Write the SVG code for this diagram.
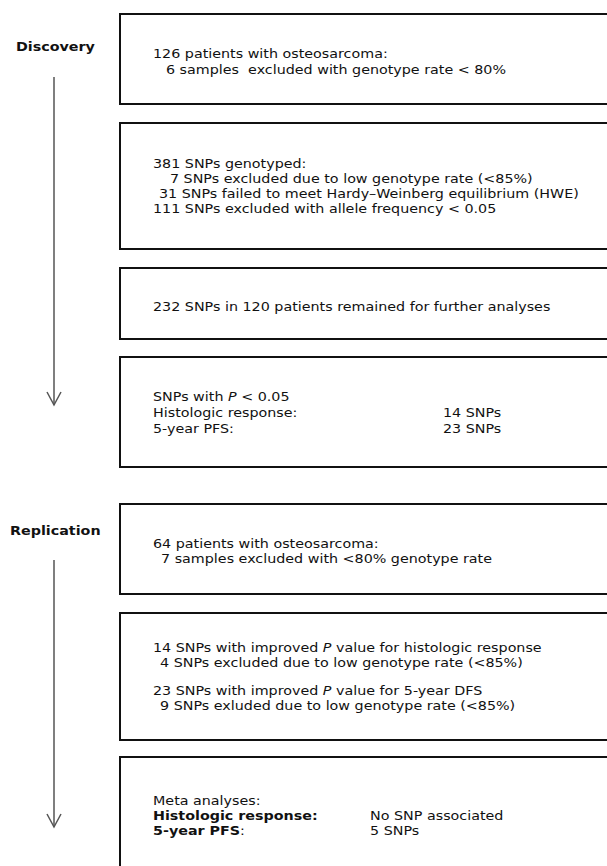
<svg xmlns="http://www.w3.org/2000/svg" width="607" height="866" viewBox="0 0 607 866">
<style>
.box{fill:#fff;stroke:#111;stroke-width:2}
text{font-family:"DejaVu Sans","Verdana",sans-serif;font-size:13px;fill:#111;white-space:pre}
.b{font-weight:bold}
.conn{stroke:#555;stroke-width:1.5;fill:none}
</style>
<rect width="607" height="866" fill="#fff"/>
<g id="connectors">
<line class="conn" x1="54" y1="77" x2="54" y2="405"/>
<polyline class="conn" points="47,392 54,405 61,392"/>
<line class="conn" x1="54" y1="560" x2="54" y2="827"/>
<polyline class="conn" points="47,814 54,827 61,814"/>
</g>
<g id="label-discovery"><text class="b" transform="scale(1.1,1)" x="14.5" y="51">Discovery</text></g>
<g id="label-replication"><text class="b" transform="scale(1.1,1)" x="9.1" y="535">Replication</text></g>
<g id="n1">
<rect class="box" x="120" y="14" width="600" height="90"/>
<g transform="scale(1.1,1)">
<text x="139.1" y="58">126 patients with osteosarcoma:</text>
<text x="150.9" y="74">6 samples  excluded with genotype rate &lt; 80%</text>
</g>
</g>
<g id="n2">
<rect class="box" x="120" y="123" width="600" height="126"/>
<g transform="scale(1.1,1)">
<text x="139.1" y="168">381 SNPs genotyped:</text>
<text x="154.5" y="183">7 SNPs excluded due to low genotype rate (&lt;85%)</text>
<text x="144.5" y="198">31 SNPs failed to meet Hardy–Weinberg equilibrium (HWE)</text>
<text x="139.1" y="213">111 SNPs excluded with allele frequency &lt; 0.05</text>
</g>
</g>
<g id="n3">
<rect class="box" x="120" y="268" width="600" height="71"/>
<g transform="scale(1.1,1)">
<text x="139.1" y="311">232 SNPs in 120 patients remained for further analyses</text>
</g>
</g>
<g id="n4">
<rect class="box" x="120" y="357" width="600" height="110"/>
<g transform="scale(1.1,1)">
<text x="139.1" y="401">SNPs with <tspan font-style="italic">P</tspan> &lt; 0.05</text>
<text x="139.1" y="417">Histologic response:</text>
<text x="402.7" y="417">14 SNPs</text>
<text x="139.1" y="433">5-year PFS:</text>
<text x="402.7" y="433">23 SNPs</text>
</g>
</g>
<g id="n5">
<rect class="box" x="120" y="504" width="600" height="90"/>
<g transform="scale(1.1,1)">
<text x="139.1" y="548">64 patients with osteosarcoma:</text>
<text x="146.4" y="563">7 samples excluded with &lt;80% genotype rate</text>
</g>
</g>
<g id="n6">
<rect class="box" x="120" y="613" width="600" height="127"/>
<g transform="scale(1.1,1)">
<text x="139.1" y="652">14 SNPs with improved <tspan font-style="italic">P</tspan> value for histologic response</text>
<text x="145.5" y="667">4 SNPs excluded due to low genotype rate (&lt;85%)</text>
<text x="139.1" y="695">23 SNPs with improved <tspan font-style="italic">P</tspan> value for 5-year DFS</text>
<text x="145.5" y="710">9 SNPs exluded due to low genotype rate (&lt;85%)</text>
</g>
</g>
<g id="n7">
<rect class="box" x="120" y="757" width="600" height="200"/>
<g transform="scale(1.1,1)">
<text x="139.1" y="805">Meta analyses:</text>
<text class="b" x="139.1" y="820">Histologic response:</text>
<text x="336.4" y="820">No SNP associated</text>
<text x="139.1" y="835"><tspan class="b">5-year PFS</tspan>:</text>
<text x="336.4" y="835">5 SNPs</text>
</g>
</g>
</svg>
